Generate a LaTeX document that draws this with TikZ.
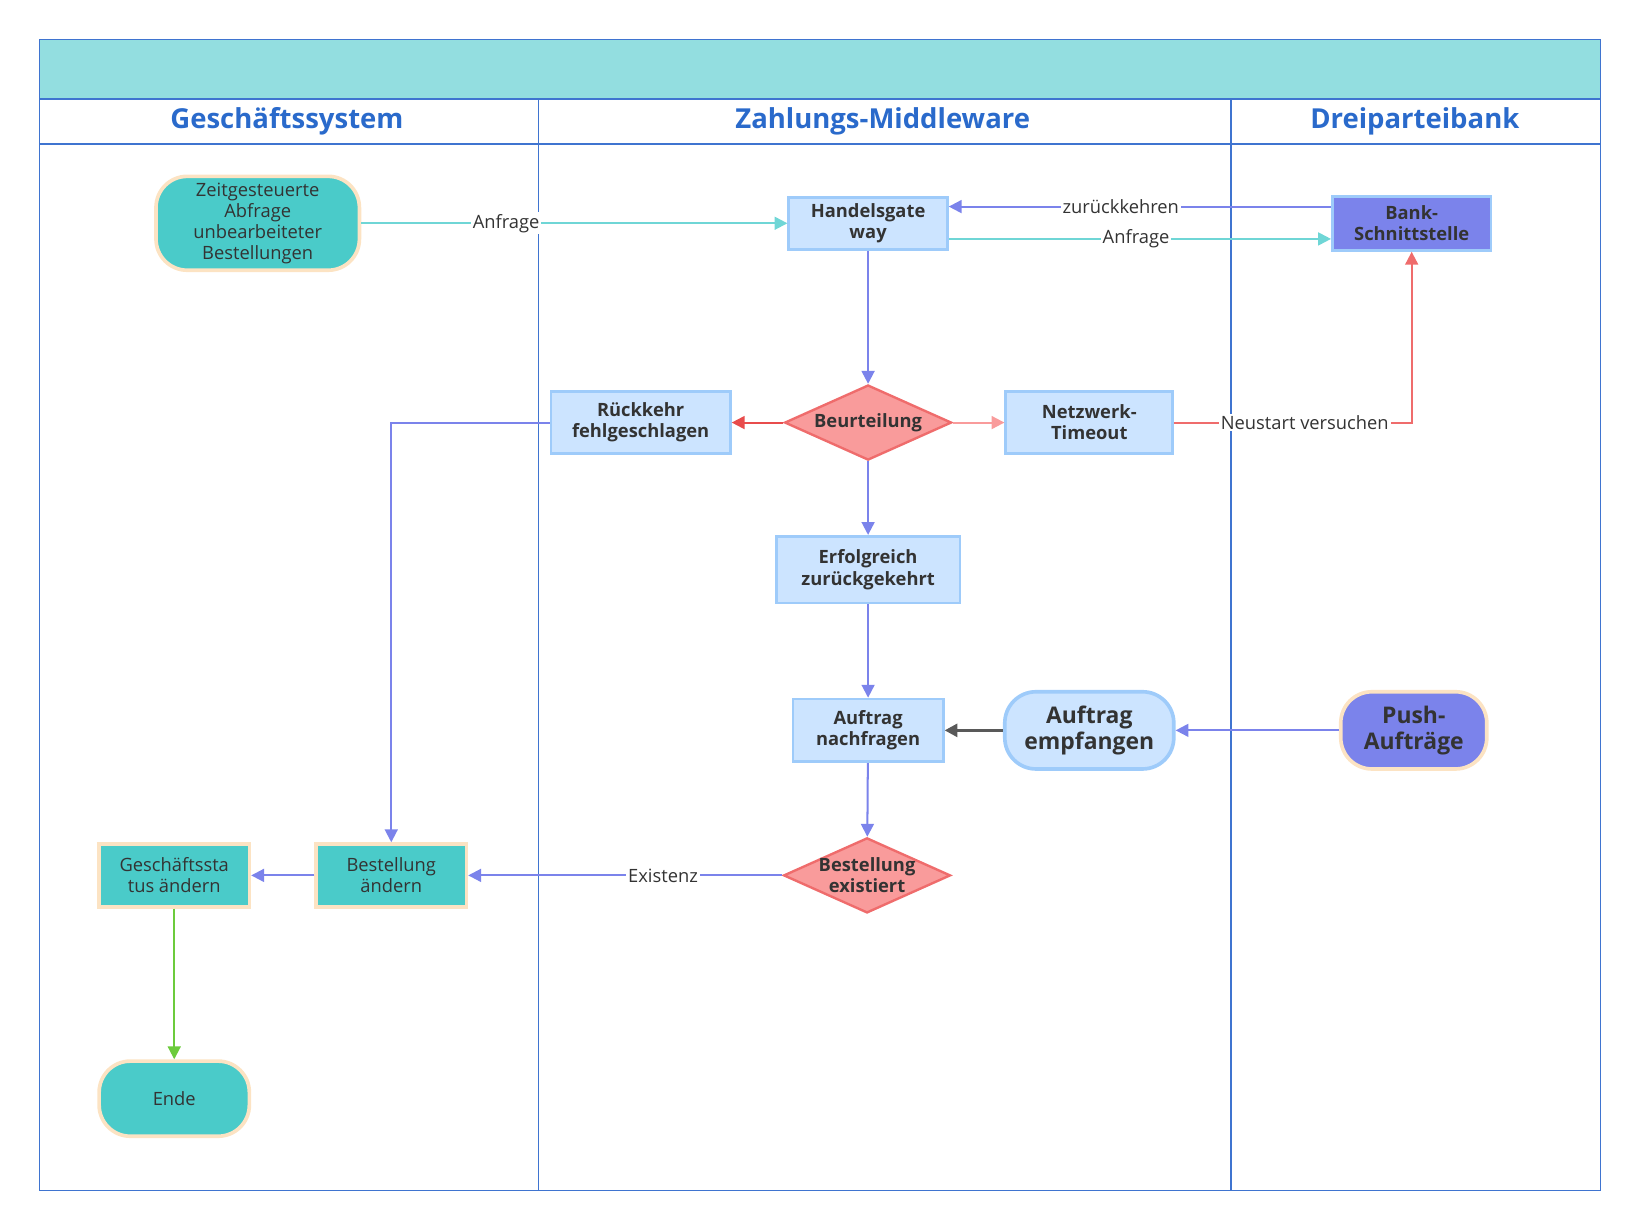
\documentclass[tikz,border=0pt]{standalone}
\usepackage{fontspec}
\setmainfont{Open Sans}
\usetikzlibrary{shapes.geometric,arrows.meta}
\definecolor{laneblue}{HTML}{3F74D0}
\definecolor{titleblue}{HTML}{2A6ACB}
\definecolor{headteal}{HTML}{93DEE0}
\definecolor{tealfill}{HTML}{4ACBC9}
\definecolor{peach}{HTML}{FCE3C3}
\definecolor{boxfill}{HTML}{CCE4FF}
\definecolor{boxline}{HTML}{9ECBFA}
\definecolor{purp}{HTML}{7B83EB}
\definecolor{redfill}{HTML}{F99B9B}
\definecolor{redline}{HTML}{EF6C6C}
\definecolor{redarrow}{HTML}{E84C4C}
\definecolor{tealline}{HTML}{6FD6D6}
\definecolor{greenline}{HTML}{6CCB3C}
\definecolor{ink}{HTML}{333333}
\tikzset{
  box/.style={draw=boxline, fill=boxfill, line width=1.5pt, align=center, text=ink, font=\fontsize{10}{11.5}\selectfont\bfseries, inner sep=1pt},
  tealbox/.style={draw=peach, fill=tealfill, line width=2pt, align=center, text=ink, font=\fontsize{10}{11.5}\selectfont, inner sep=1pt},
  stadium/.style={rounded corners=17pt, line width=2pt, align=center, text=ink, inner sep=1pt},
  decide/.style={diamond, aspect=2.2, draw=redline, fill=redfill, line width=1.3pt, align=center, text=ink, font=\fontsize{10}{11.5}\selectfont\bfseries, inner sep=-2pt},
  link/.style={-{Triangle[length=7pt,width=7pt]}, line width=1.1pt},
  lbl/.style={fill=white, inner sep=1pt, text=ink, font=\fontsize{10}{12}\selectfont}
}
\begin{document}
\begin{tikzpicture}[x=0.02cm, y=-0.02cm]
\useasboundingbox (0,0) rectangle (1568,1176);
% lanes
\fill[headteal] (38,38) rectangle (1534,95);
\draw[laneblue, line width=0.8pt] (38,38) rectangle (1534,1141);
\draw[laneblue, line width=0.8pt] (38,95) -- (1534,95) (38,138) -- (1534,138);
\draw[laneblue, line width=0.8pt] (516,95) -- (516,1141) (1180,95) -- (1180,1141);
\foreach \x/\t in {275/Geschäftssystem, 846/Zahlungs-Middleware, 1356/Dreiparteibank}
  \node[text=titleblue, font=\fontsize{15}{17}\selectfont\bfseries] at (\x,116) {\t};
% nodes
\node[stadium, draw=peach, fill=tealfill, minimum width=3.9cm, minimum height=1.8cm, font=\fontsize{10}{11.5}\selectfont] (start) at (247,214) {Zeitgesteuerte\\Abfrage\\unbearbeiteter\\Bestellungen};
\node[box, minimum width=3.04cm, minimum height=1cm] (gate) at (832,214) {Handelsgate\\way};
\node[box, fill=purp, minimum width=3.04cm, minimum height=1.04cm] (bank) at (1353,214) {Bank-\\Schnittstelle};
\node[decide, minimum width=3.2cm, minimum height=1.44cm] (judge) at (832,405) {Beurteilung};
\node[box, minimum width=3.44cm, minimum height=1.2cm] (fail) at (614,405) {Rückkehr\\fehlgeschlagen};
\node[box, minimum width=3.2cm, minimum height=1.2cm] (timeout) at (1044,405) {Netzwerk-\\Timeout};
\node[box, minimum width=3.52cm, minimum height=1.28cm] (ok) at (832,546) {Erfolgreich\\zurückgekehrt};
\node[box, minimum width=2.88cm, minimum height=1.2cm] (ask) at (832,700) {Auftrag\\nachfragen};
\node[stadium, draw=boxline, fill=boxfill, minimum width=3.24cm, minimum height=1.48cm, font=\fontsize{12.5}{14}\selectfont\bfseries] (recv) at (1044,700) {Auftrag\\empfangen};
\node[stadium, draw=peach, fill=purp, minimum width=2.8cm, minimum height=1.48cm, font=\fontsize{12.5}{14}\selectfont\bfseries] (push) at (1355,700) {Push-\\Aufträge};
\node[decide, minimum width=3.2cm, minimum height=1.44cm] (exist) at (831,839) {Bestellung\\existiert};
\node[tealbox, minimum width=2.88cm, minimum height=1.2cm] (change) at (375,839) {Bestellung\\ändern};
\node[tealbox, minimum width=2.88cm, minimum height=1.2cm] (status) at (167,839) {Geschäftssta\\tus ändern};
\node[stadium, draw=peach, fill=tealfill, minimum width=2.88cm, minimum height=1.44cm, font=\fontsize{10}{11.5}\selectfont] (stop) at (167,1053) {Ende};
% connectors
\draw[link, tealline] (start) -- node[lbl, pos=0.34] {Anfrage} (gate);
\draw[link, purp] (bank.west |- 0,198) -- node[lbl, pos=0.55] {zurückkehren} (gate.east |- 0,198);
\draw[link, tealline] (gate.east |- 0,229) -- node[lbl, pos=0.49] {Anfrage} (bank.west |- 0,229);
\draw[link, purp] (gate) -- (judge);
\draw[link, redarrow] (judge) -- (fail);
\draw[link, redfill] (judge) -- (timeout);
\draw[link, redline] (timeout) -- node[lbl, pos=0.55] {Neustart versuchen} (1353,405) -- (bank);
\draw[link, purp] (fail.west) -- (375,405) -- (change);
\draw[link, purp] (judge) -- (ok);
\draw[link, purp] (ok) -- (ask);
\draw[link, purp] (ask) -- (exist);
\draw[link, black!65, line width=1.8pt] (recv) -- (ask);
\draw[link, purp] (push) -- (recv);
\draw[link, purp] (exist) -- node[lbl, pos=0.38] {Existenz} (change);
\draw[link, purp] (change) -- (status);
\draw[link, greenline] (status) -- (stop);
\end{tikzpicture}
\end{document}
